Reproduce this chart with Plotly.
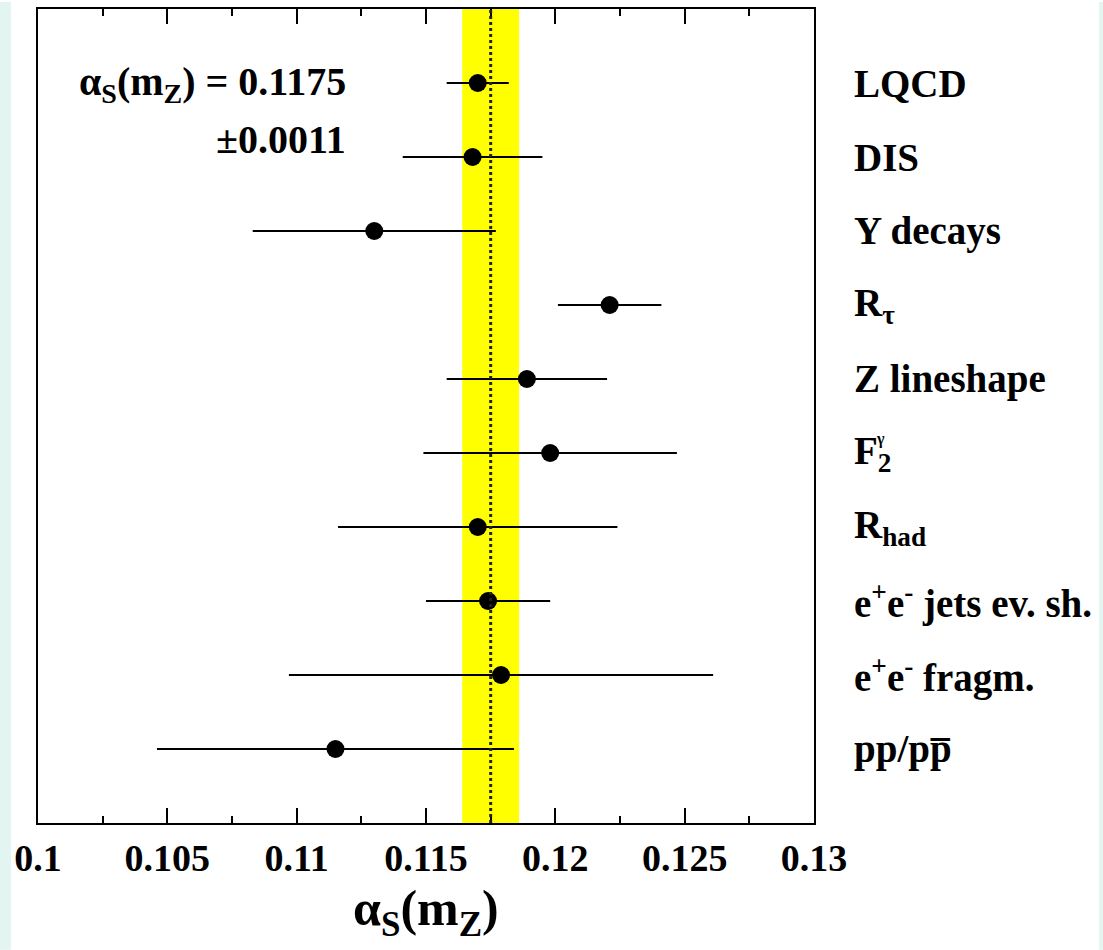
import plotly.graph_objects as go

# Measurements of the strong coupling at the Z mass
labels = [
    "LQCD",
    "DIS",
    "Y decays",
    "R<sub>τ</sub>",
    "Z lineshape",
    "F<sub>2</sub>",
    "R<sub>had</sub>",
    "e<sup>+</sup>e<sup>-</sup> jets ev. sh.",
    "e<sup>+</sup>e<sup>-</sup> fragm.",
    "pp/pp\u0305",
]
alpha_s = [0.1170, 0.1168, 0.1130, 0.1221, 0.1189, 0.1198, 0.1170, 0.1174, 0.1179, 0.1115]
alpha_err = [0.0012, 0.0027, 0.0047, 0.0020, 0.0031, 0.0049, 0.0054, 0.0024, 0.0082, 0.0069]

world_avg = 0.1175
world_err = 0.0011

tick_vals = [0.1, 0.105, 0.11, 0.115, 0.12, 0.125, 0.13]
tick_text = ["0.1", "0.105", "0.11", "0.115", "0.12", "0.125", "0.13"]

W, H = 1103, 950
ML, MR, MT, MB = 38, 289, 7, 127
PW = W - ML - MR
PH = H - MT - MB


def px_x(p):
    return (p - ML) / PW


def px_y(p):
    return (H - MB - p) / PH


FONT = "'Liberation Serif', 'Times New Roman', Times, serif"
n = len(labels)
rows = list(range(n, 0, -1))

fig = go.Figure()

fig.add_trace(go.Scatter(
    x=alpha_s,
    y=rows,
    mode="markers",
    marker=dict(size=18, color="black"),
    error_x=dict(type="data", array=alpha_err, symmetric=True,
                 thickness=2, width=0, color="black"),
    showlegend=False,
    hoverinfo="x",
))

shapes = [
    # world average band
    dict(type="rect", xref="x", yref="paper",
         x0=world_avg - world_err, x1=world_avg + world_err, y0=0, y1=1,
         fillcolor="#ffff00", line=dict(width=0), layer="below"),
    # world average central value
    dict(type="line", xref="x", yref="paper",
         x0=world_avg, x1=world_avg, y0=0, y1=1,
         line=dict(color="#222222", width=3, dash="dot"), layer="above"),
    # side strips of the page
    dict(type="rect", xref="paper", yref="paper",
         x0=px_x(0), x1=px_x(11), y0=px_y(H), y1=px_y(0),
         fillcolor="#e2f5f1", line=dict(width=0), layer="below"),
    dict(type="rect", xref="paper", yref="paper",
         x0=px_x(1099), x1=px_x(W), y0=px_y(H), y1=px_y(0),
         fillcolor="#e2f5f1", line=dict(width=0), layer="below"),
]

annotations = []
for lab, r in zip(labels, rows):
    annotations.append(dict(
        x=px_x(852), xref="paper", y=r, yref="y",
        text="<b>%s</b>" % lab, showarrow=False, xanchor="left", yanchor="middle",
        font=dict(family=FONT, size=39, color="black"),
    ))

# photon superscript stacked over the subscript of F2
f2_row = rows[labels.index("F<sub>2</sub>")]
annotations.append(dict(
    x=px_x(874), xref="paper", y=f2_row, yref="y", yshift=14,
    text="<b>γ</b>", showarrow=False, xanchor="left", yanchor="middle",
    font=dict(family=FONT, size=16, color="black"),
))

annotations.append(dict(
    x=px_x(348), xref="paper", y=px_y(82), yref="paper",
    text="<b>α<sub>S</sub>(m<sub>Z</sub>) = %.4f</b>" % world_avg,
    showarrow=False, xanchor="right", yanchor="middle",
    font=dict(family=FONT, size=40, color="black"),
))
annotations.append(dict(
    x=px_x(348), xref="paper", y=px_y(138), yref="paper",
    text="<b>±%.4f</b>" % world_err,
    showarrow=False, xanchor="right", yanchor="middle",
    font=dict(family=FONT, size=40, color="black"),
))
annotations.append(dict(
    x=0.5, xref="paper", y=px_y(912), yref="paper",
    text="<b>α<sub>S</sub>(m<sub>Z</sub>)</b>",
    showarrow=False, xanchor="center", yanchor="middle",
    font=dict(family=FONT, size=50, color="black"),
))

fig.update_layout(
    width=W, height=H,
    margin=dict(l=ML, r=MR, t=MT, b=MB, pad=0),
    paper_bgcolor="white",
    plot_bgcolor="white",
    shapes=shapes,
    annotations=annotations,
    xaxis=dict(
        range=[0.1, 0.13],
        tickvals=tick_vals, ticktext=["<b>%s</b>" % t for t in tick_text],
        ticks="inside", ticklen=15, tickwidth=2, tickcolor="black",
        minor=dict(dtick=0.0025, tick0=0.1, ticks="inside", ticklen=7,
                   tickwidth=2, tickcolor="black"),
        showline=True, linewidth=2, linecolor="black", mirror="allticks",
        showgrid=False, zeroline=False,
        tickfont=dict(family=FONT, size=38, color="black"),
    ),
    yaxis=dict(
        range=[0, n + 1],
        showticklabels=False, ticks="",
        showline=True, linewidth=2, linecolor="black", mirror=True,
        showgrid=False, zeroline=False,
    ),
)

fig.write_html("out.html")
